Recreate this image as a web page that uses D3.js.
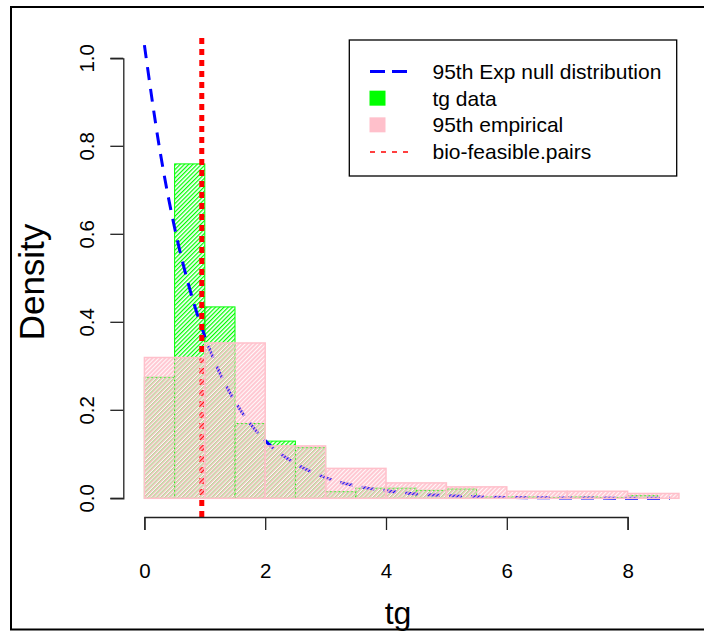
<!DOCTYPE html>
<html>
<head>
    <title>tg density histogram</title>
    <script type="text/javascript" src="https://cdn.jsdelivr.net/npm/d3@7"></script>
    <style type="text/css">
        body {
            margin: 0;
            background-color: #fff;
        }
        svg text {
            font-family: "Liberation Sans", Arial, sans-serif;
            fill: #000;
        }
        .axis path, .axis line {
            stroke: #222;
            stroke-width: 1.3px;
        }
    </style>
</head>

<body>
    <svg id="chart" width="704" height="631"></svg>
</body>

<script type="text/javascript">
    // tg data histogram (bin width 0.5)
    let tg_breaks = [0, 0.5, 1, 1.5, 2, 2.5, 3, 3.5, 4, 4.5, 5, 5.5, 6, 6.5, 7, 7.5, 8, 8.5];
    let tg_density = [0.275, 0.76, 0.435, 0.17, 0.13, 0.115, 0.015, 0.023, 0.023, 0.018, 0.021, 0.003, 0.003, 0.002, 0.003, 0.002, 0.006];

    // 95th empirical histogram (bin width 1)
    let emp_breaks = [0, 1, 2, 3, 4, 5, 6, 7, 8, 8.85];
    let emp_density = [0.32, 0.353, 0.119, 0.068, 0.035, 0.026, 0.016, 0.016, 0.011];

    // 95th Exp null distribution curve
    let exp_x = [0, 0.25, 0.5, 0.75, 1, 1.25, 1.5, 1.75, 2, 2.5, 3, 3.5, 4, 4.5, 5, 6, 7, 8, 8.7];
    let exp_y = [1.03, 0.796, 0.615, 0.476, 0.368, 0.284, 0.22, 0.17, 0.131, 0.079, 0.047, 0.028, 0.017, 0.01, 0.006, 0.002, 0.0008, 0.0003, 0.0001];

    let bio_feasible = 0.95;

    let x_ticks = [0, 2, 4, 6, 8];
    let y_ticks = [0, 0.2, 0.4, 0.6, 0.8, 1.0];

    let legend_labels = ["95th Exp null distribution", "tg data", "95th empirical", "bio-feasible.pairs"];

    let svg = d3.select("#chart");
    let x = d3.scaleLinear().domain([0, 8]).range([144.4, 627.6]);
    let y = d3.scaleLinear().domain([0, 1]).range([498.3, 58.3]);
    const plot_top = 38, plot_bottom = 517;

    // hatch patterns
    let defs = svg.append("defs");
    let gp = defs.append("pattern").attr("id", "hatch-green")
        .attr("patternUnits", "userSpaceOnUse").attr("width", 3).attr("height", 3)
        .attr("patternTransform", "rotate(45)");
    gp.append("line").attr("x1", 0.6).attr("y1", 0).attr("x2", 0.6).attr("y2", 3)
        .attr("stroke", "#00ff00").attr("stroke-width", 1.3);

    let pp = defs.append("pattern").attr("id", "hatch-pink")
        .attr("patternUnits", "userSpaceOnUse").attr("width", 3).attr("height", 3)
        .attr("patternTransform", "rotate(45)");
    pp.append("rect").attr("x", 0).attr("y", 0).attr("width", 2.1).attr("height", 3)
        .attr("fill", "#ffc0cb").attr("fill-opacity", 0.85);

    function bins(breaks, dens) {
        return dens.map(function(d, i) {
            return {x0: breaks[i], x1: breaks[i + 1], val: d};
        });
    }

    // tg data bars
    svg.append("g").selectAll("rect")
        .data(bins(tg_breaks, tg_density))
        .enter().append("rect")
        .attr("x", function(d) { return x(d.x0); })
        .attr("y", function(d) { return y(d.val); })
        .attr("width", function(d) { return x(d.x1) - x(d.x0); })
        .attr("height", function(d) { return y(0) - y(d.val); })
        .attr("fill", "url(#hatch-green)")
        .attr("stroke", "#00ff00")
        .attr("stroke-width", 1);

    // exp null curve
    let line = d3.line()
        .x(function(d) { return x(d[0]); })
        .y(function(d) { return y(d[1]); })
        .curve(d3.curveMonotoneX);
    svg.append("path")
        .attr("d", line(d3.zip(exp_x, exp_y)))
        .attr("fill", "none")
        .attr("stroke", "#0000ff")
        .attr("stroke-width", 3)
        .attr("stroke-dasharray", "13,9");

    // bio-feasible pairs
    svg.append("line")
        .attr("x1", x(bio_feasible)).attr("x2", x(bio_feasible))
        .attr("y1", plot_top).attr("y2", plot_bottom)
        .attr("stroke", "#ff0000")
        .attr("stroke-width", 5)
        .attr("stroke-dasharray", "6,5");

    // empirical bars
    svg.append("g").selectAll("rect")
        .data(bins(emp_breaks, emp_density))
        .enter().append("rect")
        .attr("x", function(d) { return x(d.x0); })
        .attr("y", function(d) { return y(d.val); })
        .attr("width", function(d) { return x(d.x1) - x(d.x0); })
        .attr("height", function(d) { return y(0) - y(d.val); })
        .attr("fill", "url(#hatch-pink)")
        .attr("stroke", "#ffc0cb")
        .attr("stroke-width", 1.5);

    // axes
    let x_axis = svg.append("g").attr("class", "axis")
        .attr("transform", "translate(0," + plot_bottom + ")")
        .call(d3.axisBottom(x).tickValues(x_ticks).tickSize(13).tickSizeOuter(13).tickPadding(33));
    x_axis.selectAll("text").style("font-size", "20.5px");

    let y_axis = svg.append("g").attr("class", "axis")
        .attr("transform", "translate(123.3,0)")
        .call(d3.axisLeft(y).tickValues(y_ticks).tickSize(13).tickSizeOuter(13).tickFormat(d3.format(".1f")));
    y_axis.selectAll("text")
        .style("font-size", "20.5px")
        .attr("text-anchor", "middle")
        .attr("dy", 0)
        .attr("transform", function(d) { return "translate(" + (-36) + "," + y(d) + ") rotate(-90)"; })
        .attr("x", 0).attr("y", 7);
    y_axis.selectAll(".tick").attr("transform", null);
    y_axis.selectAll(".tick line").attr("transform", function(d) { return "translate(0," + y(d) + ")"; });

    x_axis.select(".domain").attr("fill", "none");
    y_axis.select(".domain").attr("fill", "none");

    // axis titles
    svg.append("text").attr("x", 398).attr("y", 624)
        .attr("text-anchor", "middle").style("font-size", "32px").text("tg");
    svg.append("text")
        .attr("transform", "translate(44,282) rotate(-90)")
        .attr("text-anchor", "middle").style("font-size", "35px").text("Density");

    // legend
    let lg = svg.append("g");
    lg.append("rect").attr("x", 349.3).attr("y", 40).attr("width", 327.4).attr("height", 136)
        .attr("fill", "#fff").attr("stroke", "#000").attr("stroke-width", 1.3);
    let ly = d3.scalePoint().domain(legend_labels).range([71.5, 151.5]);
    lg.append("line").attr("x1", 370).attr("x2", 407)
        .attr("y1", ly(legend_labels[0])).attr("y2", ly(legend_labels[0]))
        .attr("stroke", "#0000ff").attr("stroke-width", 3).attr("stroke-dasharray", "15,7");
    lg.append("rect").attr("x", 369.5).attr("y", ly(legend_labels[1]) - 7.5)
        .attr("width", 16).attr("height", 15).attr("fill", "#00ff00");
    lg.append("rect").attr("x", 369.5).attr("y", ly(legend_labels[2]) - 7.5)
        .attr("width", 16).attr("height", 15).attr("fill", "#ffc0cb");
    lg.append("line").attr("x1", 370).attr("x2", 411)
        .attr("y1", ly(legend_labels[3]) + 0.5).attr("y2", ly(legend_labels[3]) + 0.5)
        .attr("stroke", "#ff0000").attr("stroke-width", 1.5).attr("stroke-dasharray", "5,6");
    lg.selectAll("text.lab").data(legend_labels).enter().append("text")
        .attr("class", "lab")
        .attr("x", 432.5)
        .attr("y", function(d) { return ly(d) + 7.5; })
        .style("font-size", "21px")
        .text(function(d) { return d; });

    // outer frame (open on the right)
    svg.append("path")
        .attr("d", "M704,7 H11 V629.5 H704")
        .attr("fill", "none").attr("stroke", "#000").attr("stroke-width", 2);
</script>

</html>
